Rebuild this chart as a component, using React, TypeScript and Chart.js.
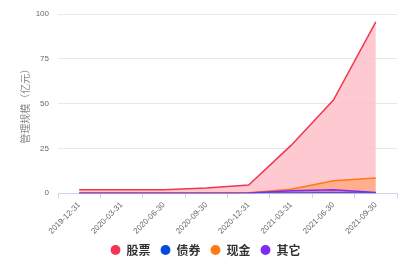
import React, { useEffect, useRef } from "react";
import { Chart, registerables } from "chart.js";

Chart.register(...registerables);

const categories = [
  "2019-12-31",
  "2020-03-31",
  "2020-06-30",
  "2020-09-30",
  "2020-12-31",
  "2021-03-31",
  "2021-06-30",
  "2021-09-30",
];
const stockValues = [2.0, 2.0, 2.0, 3.0, 4.6, 26.7, 52.0, 95.6];
const bondValues = [0, 0, 0, 0, 0.1, 0.2, 0.3, 0.2];
const cashValues = [0, 0, 0, 0, 0.3, 2.2, 7.0, 8.5];
const otherValues = [0, 0, 0, 0, 0.2, 1.4, 2.0, 0.5];
const seriesNames = ["股票", "债券", "现金", "其它"];
const yTicks = [0, 25, 50, 75, 100];
const yTitle = "管理规模（亿元）";

const lineColors = ["#f2364f", "#0a47e0", "#ff7a14", "#7a2cf5"];
const fillColors = [
  "rgba(255, 192, 202, 0.85)",
  "rgba(10, 71, 224, 0.25)",
  "rgba(255, 122, 20, 0.35)",
  "rgba(122, 44, 245, 0.35)",
];

export default function App() {
  const ref = useRef<HTMLCanvasElement>(null);

  useEffect(() => {
    document.body.style.margin = "0";
    const values = [stockValues, bondValues, cashValues, otherValues];
    const orders = [4, 3, 2, 1];
    const chart = new Chart(ref.current!, {
      type: "line",
      data: {
        labels: categories,
        datasets: values.map((v, i) => ({
          label: seriesNames[i],
          data: v,
          borderColor: lineColors[i],
          backgroundColor: fillColors[i],
          borderWidth: 1.5,
          pointRadius: 0,
          fill: "origin",
          tension: 0,
          order: orders[i],
        })),
      },
      options: {
        responsive: false,
        animation: false,
        layout: { padding: { top: 14, right: 9, left: 14, bottom: 0 } },
        plugins: {
          tooltip: { enabled: false },
          legend: {
            position: "bottom",
            labels: {
              usePointStyle: true,
              boxWidth: 10,
              boxHeight: 7,
              padding: 10,
              color: "#333",
              font: { size: 12, weight: "bold", family: "'Noto Sans CJK SC', sans-serif" },
              generateLabels: () =>
                seriesNames.map((n, i) => ({
                  text: n,
                  fillStyle: lineColors[i],
                  strokeStyle: lineColors[i],
                  lineWidth: 0,
                  pointStyle: "circle",
                  hidden: false,
                  datasetIndex: i,
                  fontColor: "#333",
                })),
            },
          },
        },
        scales: {
          x: {
            type: "category",
            offset: true,
            afterFit: (scale: any) => {
              scale.paddingLeft = 0;
              scale.paddingRight = 0;
              scale.height = scale.height - 4;
            },
            grid: {
              offset: true,
              drawOnChartArea: false,
              drawTicks: true,
              tickLength: 5,
              color: "#ccd6eb",
            },
            border: { display: true, color: "#ccd6eb" },
            ticks: {
              minRotation: 45,
              maxRotation: 45,
              autoSkip: false,
              color: "#666",
              padding: 2,
              font: { size: 8, family: "'Liberation Sans', sans-serif" },
            },
          },
          y: {
            min: 0,
            max: 100,
            afterFit: (scale: any) => {
              scale.width = 44;
            },
            afterBuildTicks: (axis: any) => {
              axis.ticks = yTicks.map((v) => ({ value: v }));
            },
            grid: { color: "#e8e8e8", drawTicks: false },
            border: { display: false },
            title: {
              display: true,
              text: yTitle,
              color: "#888",
              padding: { top: 5, bottom: 0 },
              font: { size: 10, family: "'Noto Sans CJK SC', sans-serif" },
            },
            ticks: {
              color: "#666",
              padding: 9,
              font: { size: 8, family: "'Liberation Sans', sans-serif" },
            },
          },
        },
      },
    });
    return () => chart.destroy();
  }, []);

  return (
    <div style={{ position: "absolute", left: 0, top: 0, width: 406, height: 266, background: "#fff" }}>
      <canvas ref={ref} width={406} height={266} />
    </div>
  );
}
